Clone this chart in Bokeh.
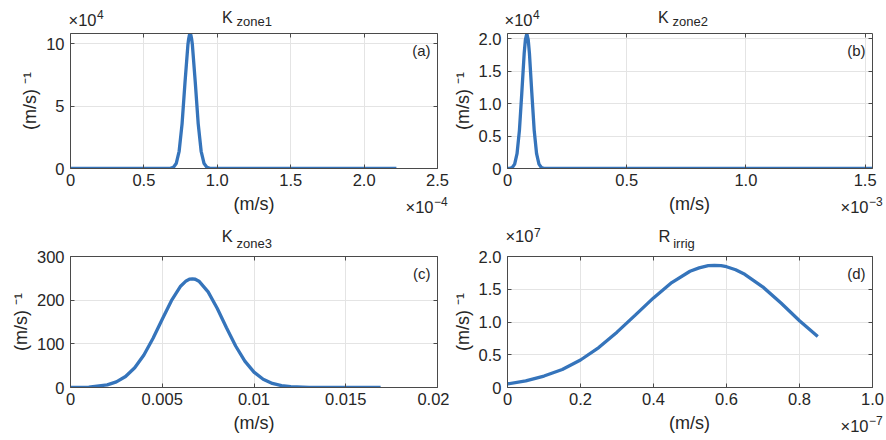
from bokeh.plotting import figure
from bokeh.layouts import column, row
from bokeh.models import LinearAxis, FixedTicker, Range1d, Label
from bokeh.embed import file_html
from bokeh.resources import INLINE

# ---------------- data (values in the units shown on the axes) ----------------
# (a) K_zone1 : x in 1e-4 m/s, y in 1e4 (m/s)^-1
a_x = [0.0, 0.60, 0.68, 0.70, 0.72, 0.74, 0.76, 0.78, 0.80, 0.805, 0.81, 0.815,
       0.82, 0.825, 0.83, 0.85, 0.87, 0.89, 0.91, 0.93, 0.95, 1.0, 2.22]
a_y = [0.0, 0.0, 0.014, 0.086, 0.40, 1.38, 3.58, 6.90, 9.95, 10.41, 10.70, 10.80,
       10.70, 10.41, 9.95, 6.90, 3.58, 1.38, 0.40, 0.086, 0.014, 0.0, 0.0]
a_xticks = [0, 0.5, 1.0, 1.5, 2.0, 2.5]
a_xlabels = ["0", "0.5", "1.0", "1.5", "2.0", "2.5"]
a_yticks = [0, 5, 10]
a_ylabels = ["0", "5", "10"]

# (b) K_zone2 : x in 1e-3 m/s, y in 1e4 (m/s)^-1
b_x = [0.0, 0.01, 0.02, 0.03, 0.04, 0.05, 0.06, 0.07, 0.075, 0.081, 0.087, 0.092,
       0.102, 0.112, 0.122, 0.132, 0.142, 0.152, 0.17, 1.531]
b_y = [0.0004, 0.0027, 0.0156, 0.068, 0.228, 0.588, 1.165, 1.774, 1.984, 2.08,
       1.984, 1.774, 1.165, 0.588, 0.228, 0.068, 0.0156, 0.0027, 0.0, 0.0]
b_xticks = [0, 0.5, 1.0, 1.5]
b_xlabels = ["0", "0.5", "1.0", "1.5"]
b_yticks = [0, 0.5, 1.0, 1.5, 2.0]
b_ylabels = ["0", "0.5", "1.0", "1.5", "2.0"]

# (c) K_zone3 : x in m/s, y in (m/s)^-1
c_x = [0.0, 0.001, 0.002, 0.0025, 0.003, 0.0035, 0.004, 0.0045, 0.005, 0.0055,
       0.006, 0.0063, 0.0065, 0.00664, 0.0068, 0.007, 0.0075, 0.008, 0.0085, 0.009,
       0.0095, 0.010, 0.0105, 0.011, 0.0115, 0.012, 0.013, 0.014, 0.0169]
c_y = [0.1, 1.0, 6.0, 12.8, 25.2, 45.2, 74.6, 112.7, 156.4, 198.8,
       232.0, 244.1, 248.3, 249.0, 247.9, 243.5, 219.0, 180.8, 136.9, 95.0,
       60.5, 35.3, 18.9, 9.3, 4.2, 1.7, 0.2, 0.0, 0.0]
c_xticks = [0, 0.005, 0.01, 0.015, 0.02]
c_xlabels = ["0", "0.005", "0.01", "0.015", "0.02"]
c_yticks = [0, 100, 200, 300]
c_ylabels = ["0", "100", "200", "300"]

# (d) R_irrig : x in 1e-7 m/s, y in 1e7 (m/s)^-1
d_x = [0.0, 0.05, 0.1, 0.15, 0.2, 0.25, 0.3, 0.35, 0.4, 0.45, 0.5, 0.525, 0.55,
       0.567, 0.585, 0.6, 0.625, 0.65, 0.7, 0.75, 0.8, 0.85]
d_y = [0.055, 0.10, 0.175, 0.275, 0.42, 0.61, 0.845, 1.105, 1.368, 1.602, 1.775,
       1.826, 1.860, 1.866, 1.861, 1.844, 1.797, 1.728, 1.533, 1.286, 1.020, 0.78]
d_xticks = [0, 0.2, 0.4, 0.6, 0.8, 1.0]
d_xlabels = ["0", "0.2", "0.4", "0.6", "0.8", "1.0"]
d_yticks = [0, 0.5, 1.0, 1.5, 2.0]
d_ylabels = ["0", "0.5", "1.0", "1.5", "2.0"]

titles = [("K", "zone1"), ("K", "zone2"), ("K", "zone3"), ("R", "irrig")]
tags = ["(a)", "(b)", "(c)", "(d)"]
y_exps = ["4", "4", None, "7"]
x_exps = ["\u22124", "\u22123", None, "\u22127"]
x_title = "(m/s)"
y_title = "(m/s) \u207b\u00b9"

# ---------------- style ----------------
FONT = "Liberation Sans"
TXT = "#262626"
AXC = "#4a4a4a"
GRID = "#e4e4e4"
LINE = "#3574bb"
TICK_FS = 16.5
LAB_FS = 18
W = 886

# frame boxes in page pixels (left, right, top, bottom)
FR = [(70, 437, 33, 168), (506, 872, 33, 168), (70, 437, 253, 387), (506, 872, 253, 387)]


def style_axis(ax, ticker, ticks, labels, show, standoff):
    ax.ticker = ticker
    ax.major_label_overrides = {t: l for t, l in zip(ticks, labels)}
    ax.major_tick_in = 4
    ax.major_tick_out = 0
    ax.minor_tick_in = 0
    ax.minor_tick_out = 0
    ax.axis_line_color = AXC
    ax.axis_line_width = 1
    ax.major_tick_line_color = AXC
    ax.major_label_text_font = FONT
    if show:
        ax.major_label_text_color = TXT
        ax.major_label_text_font_size = f"{TICK_FS}px"
        ax.major_label_standoff = standoff
    else:
        ax.major_label_text_color = None
        ax.major_label_text_font_size = "1px"
        ax.major_label_standoff = 0


def text_axis(p, i, items, size, standoff):
    """Extra 'above' axis without line/ticks whose tick labels carry header texts.
    items: (text, centre in px from the frame's left edge)."""
    L, R, T, B = FR[i]
    x0, x1 = p.x_range.start, p.x_range.end
    ticks = [x0 + c / (R - L) * (x1 - x0) for _, c in items]
    ax = LinearAxis(ticker=FixedTicker(ticks=ticks),
                    major_label_overrides={t: s for t, (s, _) in zip(ticks, items)})
    ax.axis_line_color = None
    ax.major_tick_line_color = None
    ax.minor_tick_line_color = None
    ax.major_tick_in = 0
    ax.major_tick_out = 0
    ax.minor_tick_in = 0
    ax.minor_tick_out = 0
    ax.major_label_standoff = standoff
    ax.major_label_text_font = FONT
    ax.major_label_text_font_size = f"{size}px"
    ax.major_label_text_color = TXT
    p.add_layout(ax, "above")


def panel(i, xs, ys, xr, yr, xt, xl, yt, yl, w, h, bl, br, bt, bb):
    p = figure(width=w, height=h, output_backend="svg", toolbar_location=None,
               x_range=Range1d(*xr), y_range=Range1d(*yr),
               min_border_left=bl, min_border_right=br,
               min_border_top=bt, min_border_bottom=bb)
    p.outline_line_color = None
    p.background_fill_color = "white"
    p.border_fill_color = "white"
    xtk = FixedTicker(ticks=xt)
    ytk = FixedTicker(ticks=yt)
    p.add_layout(LinearAxis(), "above")
    p.add_layout(LinearAxis(), "right")
    style_axis(p.below[0], xtk, xt, xl, True, 5)
    style_axis(p.left[0], ytk, yt, yl, True, 6)
    style_axis(p.above[0], xtk, xt, xl, False, 0)
    style_axis(p.right[0], ytk, yt, yl, False, 0)
    p.xgrid.ticker = xtk
    p.ygrid.ticker = ytk
    for g in (p.xgrid, p.ygrid):
        g.grid_line_color = GRID
        g.grid_line_width = 1
    yax = p.left[0]
    yax.axis_label = y_title
    yax.axis_label_text_font = FONT
    yax.axis_label_text_font_size = f"{LAB_FS}px"
    yax.axis_label_text_font_style = "normal"
    yax.axis_label_text_color = TXT
    yax.axis_label_standoff = 3

    p.line(xs, ys, line_color=LINE, line_width=3.3)
    p.add_layout(Label(x=xr[1], y=yr[1], x_offset=-7, y_offset=-17, text=tags[i],
                       text_font=FONT, text_font_size="15px", text_color=TXT,
                       text_align="right", text_baseline="alphabetic"))
    return p


def strip(h):
    s = figure(width=W, height=h, output_backend="svg", toolbar_location=None,
               x_range=Range1d(0, W), y_range=Range1d(h, 0),
               x_axis_type=None, y_axis_type=None,
               min_border_left=0, min_border_right=0,
               min_border_top=0, min_border_bottom=0)
    s.outline_line_color = None
    s.background_fill_color = "white"
    s.border_fill_color = "white"
    return s


def put(s, top, text, x, y_base, size, align="left"):
    # y_base: page y of the text baseline; drawn with a middle anchor
    s.add_layout(Label(x=x, y=y_base - 0.35 * size - top, text=text, text_font=FONT,
                       text_font_size=f"{size}px", text_color=TXT,
                       text_align=align, text_baseline="middle"))


def above_texts(s, top, i):
    L, R, T, B = FR[i]
    main, sub = titles[i]
    put(s, top, main, L + 151.5, T - 10.3, 16)
    put(s, top, sub, L + 166, T - 7, 13)
    if y_exps[i]:
        put(s, top, "\u00d710", L - 2, T - 8, TICK_FS)
        put(s, top, y_exps[i], L + 26.5, T - 15, 12)


def below_texts(s, top, i):
    L, R, T, B = FR[i]
    put(s, top, x_title, (L + R) / 2, B + 42, LAB_FS, "center")
    if x_exps[i]:
        put(s, top, "\u00d710", R - 4, B + 44.5, TICK_FS, "right")
        put(s, top, x_exps[i], R - 3.5, B + 37.5, 12)


pa = panel(0, a_x, a_y, (0, 2.5), (0, 10.83), a_xticks, a_xlabels, a_yticks, a_ylabels,
           449, 161, 70, 12, 2, 24)
pb = panel(1, b_x, b_y, (0, 1.531), (0, 2.082), b_xticks, b_xlabels, b_yticks, b_ylabels,
           437, 161, 57, 14, 2, 24)
pc = panel(2, c_x, c_y, (0, 0.02), (0, 300), c_xticks, c_xlabels, c_yticks, c_ylabels,
           449, 188, 70, 12, 30, 24)
pd = panel(3, d_x, d_y, (0, 1.0), (0, 2.0), d_xticks, d_xlabels, d_yticks, d_ylabels,
           437, 188, 57, 14, 30, 24)

# headers of the lower panels, drawn by the panels themselves (stacked "above" axes)
text_axis(pc, 2, [(titles[2][1], 183.7)], 13, 6)
text_axis(pc, 2, [(titles[2][0], 156.8)], 16.5, -12)
text_axis(pd, 3, [(titles[3][1], 177)], 13, 6)
text_axis(pd, 3, [(titles[3][0], 157.3), ("\u00d710", 12)], 16.5, -12)
text_axis(pd, 3, [(y_exps[3], 29.8)], 12, -13)

s1 = strip(31)      # page y 0..31
s2 = strip(31)      # page y 192..223
s3 = strip(29)      # page y 411..440
above_texts(s1, 0, 0)
above_texts(s1, 0, 1)
below_texts(s2, 192, 0)
below_texts(s2, 192, 1)
below_texts(s3, 411, 2)
below_texts(s3, 411, 3)

layout = column(s1, row(pa, pb), s2, row(pc, pd), s3)
open("out.html", "w").write(file_html(layout, INLINE))
